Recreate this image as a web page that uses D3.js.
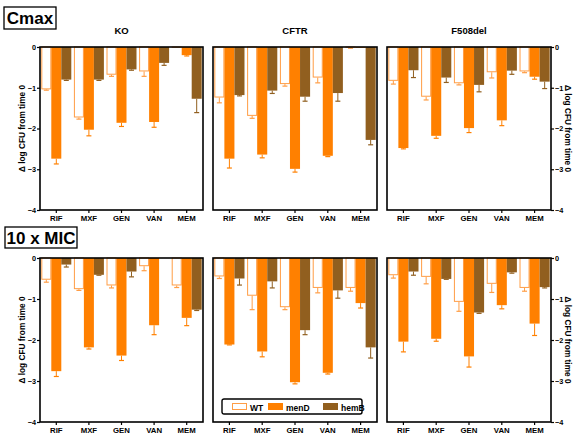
<!DOCTYPE html>
<html>
<head>
<meta charset="utf-8">
<script src="https://cdn.jsdelivr.net/npm/d3@7.9.0/dist/d3.min.js"></script>
<style>
  body { margin: 0; background: #fff; }
  svg { font-family: "Liberation Sans", Arial, sans-serif; font-weight: bold; }
</style>
</head>
<body>
<svg id="chart" width="575" height="437"></svg>
<script>
// categories and groups
const drugs = ['RIF', 'MXF', 'GEN', 'VAN', 'MEM'];
const strains = ['WT', 'menD', 'hemB'];
const panels = ['KO', 'CFTR', 'F508del'];
const conditions = ['Cmax', '10 x MIC'];
const yTicks = [0, -1, -2, -3, -4];

// means (rows: WT, menD, hemB) and error sizes
const cmaxKO = [[-1.04, -1.73, -0.68, -0.60, -0.02], [-2.74, -2.03, -1.86, -1.84, -0.20], [-0.80, -0.80, -0.55, -0.39, -1.27]];
const cmaxKOErr = [[0.02, 0.04, 0.04, 0.12, 0], [0.13, 0.15, 0.09, 0.13, 0.02], [0.02, 0.02, 0.02, 0.06, 0.34]];
const cmaxCFTR = [[-1.24, -1.69, -0.91, -0.75, -0.02], [-2.74, -2.64, -2.99, -2.67, -0.02], [-1.18, -1.07, -1.22, -1.13, -2.28]];
const cmaxCFTRErr = [[0.13, 0.06, 0.05, 0.13, 0.01], [0.23, 0.08, 0.08, 0.02, 0], [0.02, 0.07, 0.11, 0.2, 0.12]];
const cmaxF508 = [[-0.83, -1.22, -0.89, -0.62, -0.60], [-2.48, -2.18, -1.99, -1.80, -0.73], [-0.57, -0.75, -0.93, -0.58, -0.85]];
const cmaxF508Err = [[0.08, 0.08, 0.04, 0.14, 0.03], [0.02, 0.06, 0.11, 0.13, 0.06], [0.18, 0.12, 0.17, 0.09, 0.17]];
const micKO = [[-0.53, -0.76, -0.67, -0.20, -0.67], [-2.76, -2.18, -2.38, -1.64, -1.46], [-0.16, -0.41, -0.33, 0, -1.26]];
const micKOErr = [[0.06, 0.03, 0.06, 0.11, 0.05], [0.13, 0.04, 0.12, 0.23, 0.19], [0.06, 0.01, 0.13, 0, 0.02]];
const micCFTR = [[-0.45, -0.92, -1.20, -0.73, -0.73], [-2.11, -2.28, -3.03, -2.80, -1.10], [-0.50, -0.57, -1.76, -0.79, -2.18]];
const micCFTRErr = [[0.05, 0.34, 0.06, 0.12, 0.08], [0.01, 0.13, 0.04, 0.03, 0.12], [0.16, 0.16, 0.11, 0.19, 0.26]];
const micF508 = [[-0.42, -0.46, -1.07, -0.63, -0.73], [-2.04, -1.97, -2.40, -1.15, -1.60], [-0.33, -0.51, -1.33, -0.35, -0.71]];
const micF508Err = [[0.07, 0.17, 0.23, 0.21, 0.08], [0.25, 0.06, 0.26, 0.09, 0.29], [0.09, 0.01, 0.02, 0.02, 0.02]];

const means = [[cmaxKO, cmaxCFTR, cmaxF508], [micKO, micCFTR, micF508]];
const errs = [[cmaxKOErr, cmaxCFTRErr, cmaxF508Err], [micKOErr, micCFTRErr, micF508Err]];

const fills = ['#ffffff', '#ff8000', '#915f1f'];
const strokes = ['#ff9d45', '#ff8000', '#915f1f'];

const svg = d3.select('#chart');

const panelX = [[40, 203], [213, 377], [387, 551]];
const rowY = [[47, 210], [258, 422]];
const labelBoxes = [{ x: 4, y: 7, w: 52, h: 22 }, { x: 5, y: 227, w: 72, h: 21 }];

const y = d3.scaleLinear().domain([0, -4]);
const x = d3.scaleBand().domain(drugs).paddingInner(0.08).paddingOuter(0.04);
const xs = d3.scaleBand().domain(strains);

conditions.forEach((cond, r) => {
  // condition label box
  const lb = labelBoxes[r];
  svg.append('rect').attr('x', lb.x).attr('y', lb.y).attr('width', lb.w).attr('height', lb.h)
    .attr('fill', '#fff').attr('stroke', '#000').attr('stroke-width', 1.3);
  svg.append('text').attr('x', lb.x + lb.w / 2).attr('y', lb.y + lb.h / 2 + 6)
    .attr('text-anchor', 'middle').attr('font-size', 17).text(cond);

  y.range(rowY[r]);

  panels.forEach((p, c) => {
    x.range(panelX[c]);
    xs.range([0, x.bandwidth()]);
    const g = svg.append('g');

    if (r === 0) {
      g.append('text').attr('x', (panelX[c][0] + panelX[c][1]) / 2).attr('y', 34)
        .attr('text-anchor', 'middle').attr('font-size', 9.5).text(p);
    }

    // bars
    strains.forEach((s, k) => {
      const vals = means[r][c][k];
      const er = errs[r][c][k];
      const bars = g.append('g');
      drugs.forEach((d, i) => {
        const bx = x(d) + xs(s);
        const bw = xs.bandwidth();
        const v = vals[i];
        if (k === 0) {
          bars.append('rect').attr('x', bx + 0.5).attr('y', y(0))
            .attr('width', bw - 1).attr('height', Math.max(0, y(v) - y(0) - 0.5))
            .attr('fill', fills[k]).attr('stroke', strokes[k]).attr('stroke-width', 1);
        } else {
          bars.append('rect').attr('x', bx).attr('y', y(0))
            .attr('width', bw).attr('height', y(v) - y(0))
            .attr('fill', fills[k]);
        }
        if (er[i] > 0) {
          const cx = bx + bw / 2;
          bars.append('line').attr('x1', cx).attr('x2', cx)
            .attr('y1', y(v)).attr('y2', y(v - er[i]))
            .attr('stroke', strokes[k]).attr('stroke-width', 1);
          bars.append('line').attr('x1', cx - 2.5).attr('x2', cx + 2.5)
            .attr('y1', y(v - er[i])).attr('y2', y(v - er[i]))
            .attr('stroke', strokes[k]).attr('stroke-width', 1.2);
        }
      });
    });

    // frame
    g.append('rect').attr('x', panelX[c][0]).attr('y', rowY[r][0])
      .attr('width', panelX[c][1] - panelX[c][0]).attr('height', rowY[r][1] - rowY[r][0])
      .attr('fill', 'none').attr('stroke', '#000').attr('stroke-width', 1.6);

    // x axis
    const xa = g.append('g').attr('transform', `translate(0,${rowY[r][1]})`)
      .call(d3.axisBottom(x).tickSize(3).tickPadding(2.5));
    xa.select('.domain').remove();
    xa.selectAll('line').attr('stroke-width', 1.2);
    xa.selectAll('text').attr('font-size', 7.8).attr('font-family', 'Liberation Sans, Arial, sans-serif')
      .attr('font-weight', 'bold').attr('fill', '#000');

    // y axes
    if (c === 0 || c === 2) {
      const axis = c === 0 ? d3.axisLeft(y) : d3.axisRight(y);
      const ya = g.append('g').attr('transform', `translate(${c === 0 ? panelX[c][0] : panelX[c][1]},0)`)
        .call(axis.tickValues(yTicks).tickFormat(d3.format('d')).tickSize(3).tickPadding(1));
      ya.select('.domain').remove();
      ya.selectAll('line').attr('stroke-width', 1.2);
      ya.selectAll('text').attr('font-size', 7.3).attr('font-family', 'Liberation Sans, Arial, sans-serif')
        .attr('font-weight', 'bold').attr('fill', '#000');

      const my = (rowY[r][0] + rowY[r][1]) / 2;
      if (c === 0) {
        g.append('text').attr('transform', `translate(25,${my}) rotate(-90)`)
          .attr('text-anchor', 'middle').attr('font-size', 8.3).text('\u0394 log CFU from time 0');
      } else {
        g.append('text').attr('transform', `translate(565,${my}) rotate(90)`)
          .attr('text-anchor', 'middle').attr('font-size', 8.3).text('\u0394 log CFU from time 0');
      }
    }
  });
});

// legend
const leg = svg.append('g').attr('transform', 'translate(222,399)');
leg.append('rect').attr('width', 140).attr('height', 15).attr('rx', 2)
  .attr('fill', '#fff').attr('stroke', '#000').attr('stroke-width', 1.4);
const legX = [10, 46, 101];
strains.forEach((s, k) => {
  const it = leg.append('g').attr('transform', `translate(${legX[k]},4)`);
  it.append('rect').attr('x', k === 0 ? 0.5 : 0).attr('y', k === 0 ? 0.5 : 0)
    .attr('width', k === 0 ? 14 : 15).attr('height', k === 0 ? 6 : 7)
    .attr('fill', fills[k]).attr('stroke', k === 0 ? strokes[k] : 'none').attr('stroke-width', 1);
  it.append('text').attr('x', 18).attr('y', 7.5).attr('font-size', 8.5).text(s);
});
</script>
</body>
</html>
